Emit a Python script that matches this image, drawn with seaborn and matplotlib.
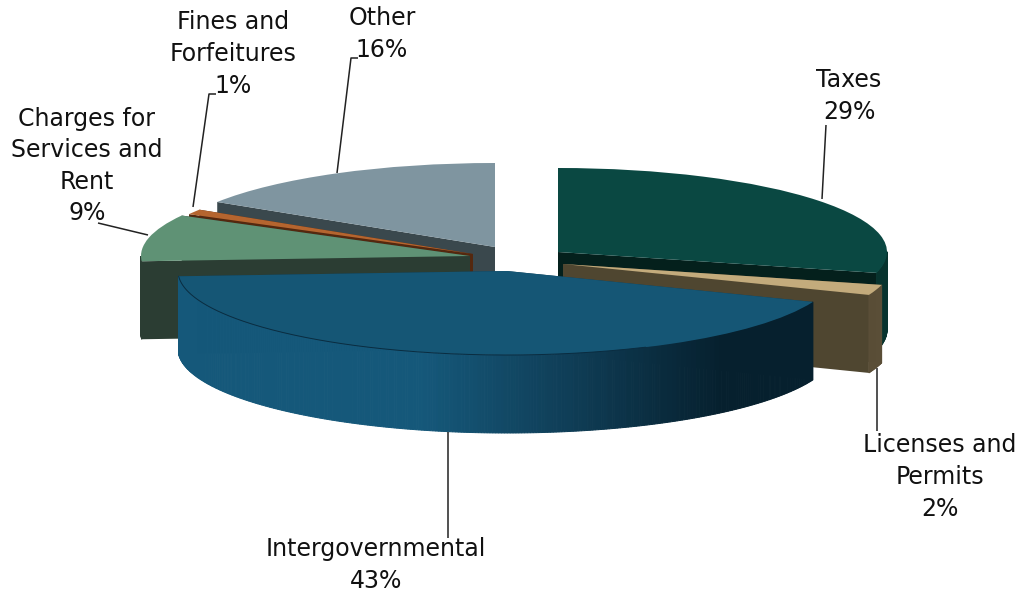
import numpy as np
import matplotlib
matplotlib.use("Agg")
import matplotlib.pyplot as plt
from matplotlib.patches import Polygon
import seaborn as sns

categories = ["Taxes", "Licenses and\nPermits", "Intergovernmental",
              "Charges for\nServices and\nRent", "Fines and\nForfeitures", "Other"]
shares = [29, 2, 43, 9, 1, 16]

top_colors = ["#0a4842", "#c3ab7c", "#155675", "#5f9275", "#b5652f", "#7f95a0"]
cut_colors = ["#04201c", "#4f4630", "#0f3a52", "#2b3d33", "#54280f", "#3a484d"]
wall_colors = ["#07332e", "#5a4e37", None, "#2b3d33", "#54280f", "#3a484d"]

W, H = 1022, 594
RX, RY, DEPTH = 329.0, 84.0, 78.0
# exploded apex and relative radius of every slice
apex_px = [(558, 252), (563, 264), (507, 271), (470, 256), (473, 254), (495, 247)]
radius_scale = [1, 1, 1, 1, 0.985, 1]
draw_order = [5, 4, 3, 0, 1, 2]
label_px = [(849, 96), (940, 477), (376, 565), (87, 166), (233, 54), (382, 34)]
leaders_px = [
    [(822, 199), (826, 125)],
    [(877, 368), (877, 431)],
    [(448, 432), (448, 538)],
    [(98, 223), (148, 235)],
    [(193, 207), (209, 94), (216, 94)],
    [(337, 173), (351, 58), (358, 58)],
]

sns.set_theme(style="white")
plt.rcParams["font.family"] = ["DejaVu Sans"]

fig = plt.figure(figsize=(W / 100, H / 100), dpi=100, facecolor="white")
ax = fig.add_axes([0, 0, 1, 1])
wedges, _ = ax.pie(shares, startangle=90, counterclock=False, colors=top_colors,
                   radius=1, wedgeprops=dict(linewidth=0))
ax.set_aspect("auto")
# one data unit = one pie radius, so the round pie is drawn as a flat ellipse
ax.set_xlim(0, W / RX)
ax.set_ylim(0, H / RY)
ax.set_axis_off()
dz = DEPTH / RY

wall_palette = sns.blend_palette(["#15587a", "#0f3d56", "#06202e"], 64)


def rim(center, theta, r=1.0):
    t = np.radians(theta)
    return center[0] + r * np.cos(t), center[1] + r * np.sin(t)


for rank, i in enumerate(draw_order):
    w = wedges[i]
    px, py = apex_px[i]
    c = (px / RX, (H - py) / RY)
    r = radius_scale[i]
    w.set_center(c)
    w.set_radius(r)
    base = 10 * (rank + 1)
    w.set_zorder(base + 3)
    for th in (w.theta1, w.theta2):
        x, y = rim(c, th, r)
        ax.add_patch(Polygon([c, (x, y), (x, y - dz), (c[0], c[1] - dz)],
                             closed=True, fc=cut_colors[i], ec="none", zorder=base))
    thetas = np.linspace(w.theta1, w.theta2, max(8, int(abs(w.theta2 - w.theta1) * 2)))
    for a, b in zip(thetas[:-1], thetas[1:]):
        if np.sin(np.radians((a + b) / 2)) >= 0:
            continue
        xa, ya = rim(c, a, r)
        xb, yb = rim(c, b, r)
        if wall_colors[i] is None:
            t = np.clip(((xa + xb) / 2 * RX - 420) / 300, 0, 1)
            col = wall_palette[int(t * 63)]
        else:
            col = wall_colors[i]
        ax.add_patch(Polygon([(xa, ya), (xb, yb), (xb, yb - dz), (xa, ya - dz)],
                             closed=True, fc=col, ec=col, lw=0.7, zorder=base + 1))
    if wall_colors[i] is None:
        arc = np.linspace(w.theta1, w.theta2, 300)
        xs, ys = rim(c, arc, r)
        keep = arc < -65
        ax.plot(xs[keep], ys[keep], color="#0a2c40", lw=0.7, zorder=base + 4)

for pts in leaders_px:
    xs = [p[0] / W for p in pts]
    ys = [1 - p[1] / H for p in pts]
    ax.plot(xs, ys, color="#222222", lw=1.1, transform=ax.transAxes, zorder=100,
            solid_capstyle="butt")

for name, share, (lx, ly) in zip(categories, shares, label_px):
    ax.text(lx / W, 1 - ly / H, f"{name}\n{share}%", transform=ax.transAxes,
            ha="center", va="center", fontsize=17, color="#111111",
            linespacing=1.4, zorder=110)

fig.savefig("out.png", dpi=100, facecolor="white")
